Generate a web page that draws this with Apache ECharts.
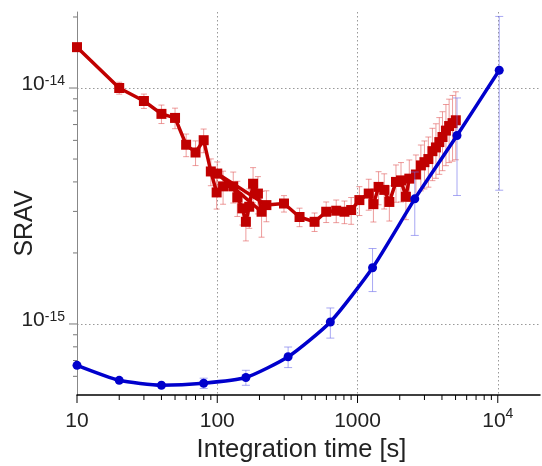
<!DOCTYPE html>
<html><head><meta charset="utf-8">
<script src="https://cdn.jsdelivr.net/npm/echarts@6/dist/echarts.min.js"></script>
<style>html,body{margin:0;padding:0;background:#fff}#c{width:542px;height:466px}</style>
</head><body><div id="c"></div>
<script>
// ---- axis ranges and tick labels ----
const xMin = 10, xMax = 20000;
const yMin = 5e-16, yMax = 2.1e-14;
const xTickValues = [10, 100, 1000, 10000];
const xTickBase = ['10', '100', '1000', '10'];
const xTickExp = ['', '', '', '4'];
const yTickValues = [1e-15, 1e-14];
const yTickBase = ['10', '10'];
const yTickExp = ['-15', '-14'];
const xTitle = 'Integration time [s]';
const yTitle = 'SRAV';

// ---- curve 1/2 (red squares) ----
const redTau = [10,20,30,40,50,60,70,80,90,
  99,110,130,139,151,160,169,180,195,207,
  100,224,
  299,386,494,598,705,807,901,
  1031,1202,1298,1413,1550,1686,1880,2042,2213,2340,
  2608,2830,3000,3200,3420,3623,3830,4036,4270,4500,4760,5020];
const redSrav = [1.49e-14,1.00e-14,8.81e-15,7.77e-15,7.47e-15,5.75e-15,5.33e-15,6.01e-15,4.43e-15,
  3.61e-15,3.83e-15,3.83e-15,3.44e-15,3.09e-15,2.71e-15,3.14e-15,3.93e-15,3.57e-15,2.99e-15,
  4.34e-15,3.19e-15,
  3.24e-15,2.84e-15,2.71e-15,2.99e-15,3.02e-15,2.99e-15,3.04e-15,
  3.35e-15,3.57e-15,3.22e-15,3.81e-15,3.70e-15,3.29e-15,4.00e-15,4.06e-15,3.46e-15,4.13e-15,
  4.30e-15,4.70e-15,4.85e-15,5.00e-15,5.40e-15,5.60e-15,5.90e-15,6.20e-15,6.60e-15,6.90e-15,7.10e-15,7.30e-15];
const redRelErr = [0,0.058,0.07,0.09,0.10,0.11,0.12,0.115,0.13,
  0.15,0.16,0.15,0.17,0.15,0.17,0.19,0.17,0.18,0.22,
  0.12,0.15,
  0.08,0.09,0.09,0.10,0.11,0.11,0.13,
  0.14,0.15,0.16,0.16,0.17,0.17,0.18,0.19,0.20,0.20,
  0.21,0.22,0.23,0.24,0.25,0.26,0.27,0.28,0.29,0.30,0.31,0.32];

// ---- curve 3 (blue circles) ----
const blueTau = [10,20,40,80,160,320,640,1280,2560,5120,10240];
const blueSrav = [6.68e-16,5.77e-16,5.50e-16,5.61e-16,5.93e-16,7.26e-16,1.02e-15,1.73e-15,3.39e-15,6.29e-15,1.19e-14];
const blueRelErr = [0,0,0,0.05,0.073,0.10,0.146,0.207,0.30,0.443,0.69];

// ---- curve annotations ----
const curveLabels = ['1', '2', '3'];
const curveLabelTau = [34.8, 1208, 159.6];
const curveLabelSrav = [1.10e-14, 4.43e-15, 8.0e-16];

const FONT = '"Liberation Sans", Arial, Helvetica, sans-serif';
const TXT = '#222';

function tickIndex(vals, v) {
  for (let i = 0; i < vals.length; i++) {
    if (Math.abs(Math.log10(v) - Math.log10(vals[i])) < 1e-6) return i;
  }
  return -1;
}
function fmt(vals, base, exp, v) {
  const i = tickIndex(vals, v);
  if (i < 0) return '';
  return exp[i] ? '{b|' + base[i] + '}{s|' + exp[i] + '}' : '{b|' + base[i] + '}';
}

// tick marks (minor + major) drawn through the axes' own scales
const tickData = [];
for (let n = 1; n <= 4; n++) {
  for (let k = 2; k <= 9; k++) {
    const v = k * Math.pow(10, n);
    if (v < xMax * 0.999) tickData.push([v, yMin, 0]);
  }
}
xTickValues.forEach(v => tickData.push([v, yMin, 1]));
for (let n = -16; n <= -14; n++) {
  for (let k = 2; k <= 9; k++) {
    const v = k * Math.pow(10, n);
    if (v > yMin * 1.001 && v <= yMax) tickData.push([xMin, v, 2]);
  }
}
yTickValues.forEach(v => tickData.push([xMin, v, 3]));

function renderTick(params, api) {
  const kind = api.value(2);
  const p = api.coord([api.value(0), api.value(1)]);
  let x2 = p[0], y2 = p[1], color;
  if (kind < 2) { y2 = p[1] + (kind === 1 ? 8 : 5); color = '#000'; }
  else { x2 = p[0] - (kind === 3 ? 8 : 4); color = '#777'; }
  return { type: 'line', shape: { x1: p[0], y1: p[1], x2: x2, y2: y2 }, style: { stroke: color, lineWidth: 1 } };
}

function errData(tau, val, rel) {
  const out = [];
  for (let i = 0; i < tau.length; i++) {
    if (rel[i] > 0) out.push([tau[i], val[i] * (1 - rel[i]), val[i] * (1 + rel[i])]);
  }
  return out;
}
function makeErrRender(color, cap) {
  return function (params, api) {
    const x = api.value(0);
    const a = api.coord([x, api.value(2)]);
    const b = api.coord([x, api.value(1)]);
    const st = { stroke: color, lineWidth: 1 };
    return { type: 'group', children: [
      { type: 'line', shape: { x1: a[0], y1: a[1], x2: b[0], y2: b[1] }, style: st },
      { type: 'line', shape: { x1: a[0] - cap, y1: a[1], x2: a[0] + cap, y2: a[1] }, style: st },
      { type: 'line', shape: { x1: b[0] - cap, y1: b[1], x2: b[0] + cap, y2: b[1] }, style: st }
    ] };
  };
}

const chart = echarts.init(document.getElementById('c'), null, { renderer: 'canvas' });
chart.setOption({
  animation: false,
  backgroundColor: '#fff',
  textStyle: { fontFamily: FONT },
  grid: { left: 77, right: 2, top: 12, bottom: 71, containLabel: false, outerBoundsMode: 'none' },
  xAxis: {
    type: 'log', logBase: 10, min: xMin, max: xMax,
    name: xTitle, nameLocation: 'middle', nameGap: 42, nameMoveOverlap: false,
    nameTextStyle: { fontSize: 25.5, color: TXT, fontFamily: FONT, padding: [0, 14, 0, 0] },
    axisLine: { show: true, lineStyle: { color: '#000', width: 1.5 } },
    axisTick: { show: false },
    minorTick: { show: false },
    axisLabel: {
      margin: 12, color: TXT, fontFamily: FONT,
      formatter: v => fmt(xTickValues, xTickBase, xTickExp, v),
      rich: {
        b: { fontSize: 21, lineHeight: 28, color: TXT, fontFamily: FONT },
        s: { fontSize: 14, lineHeight: 14, verticalAlign: 'top', color: TXT, fontFamily: FONT }
      }
    },
    splitLine: { show: true, showMinLine: false, showMaxLine: false, lineStyle: { color: '#999', type: [1.5, 2.5], width: 1 } }
  },
  yAxis: {
    type: 'log', logBase: 10, min: yMin, max: yMax,
    name: yTitle, nameLocation: 'middle', nameGap: 39, nameMoveOverlap: false,
    nameTextStyle: { fontSize: 25, color: TXT, fontFamily: FONT, padding: [0, 40, 0, 0] },
    axisLine: { show: true, lineStyle: { color: '#888', width: 1 } },
    axisTick: { show: false },
    minorTick: { show: false },
    axisLabel: {
      margin: 12, color: TXT, fontFamily: FONT,
      formatter: v => fmt(yTickValues, yTickBase, yTickExp, v),
      rich: {
        b: { fontSize: 21, lineHeight: 28, padding: [0, 0, 7, 0], color: TXT, fontFamily: FONT },
        s: { fontSize: 14, lineHeight: 14, verticalAlign: 'top', color: TXT, fontFamily: FONT }
      }
    },
    splitLine: { show: true, showMinLine: false, showMaxLine: false, lineStyle: { color: '#999', type: [1.5, 2.5], width: 1 } }
  },
  series: [
    { type: 'custom', name: 'ticks', renderItem: renderTick, data: tickData, clip: false, silent: true, z: 1 },
    { type: 'custom', name: 'red error', renderItem: makeErrRender('rgba(225,90,90,0.6)', 3),
      data: errData(redTau, redSrav, redRelErr), clip: true, silent: true, z: 2 },
    { type: 'line', name: 'curve 1-2', data: redTau.map((t, i) => [t, redSrav[i]]),
      symbol: 'rect', symbolSize: 10, showSymbol: true,
      lineStyle: { color: '#c00000', width: 3.5 }, itemStyle: { color: '#c00000' }, z: 3 },
    { type: 'custom', name: 'blue error', renderItem: makeErrRender('rgba(110,110,235,0.6)', 4),
      data: errData(blueTau, blueSrav, blueRelErr), clip: true, silent: true, z: 4 },
    { type: 'line', name: 'curve 3', data: blueTau.map((t, i) => [t, blueSrav[i]]),
      symbol: 'circle', symbolSize: 9, smooth: 0.2,
      lineStyle: { color: '#0000cc', width: 3.5 }, itemStyle: { color: '#0000cc' }, z: 5 },
    { type: 'scatter', name: 'labels', symbolSize: 1, itemStyle: { opacity: 0 }, silent: true, z: 6,
      data: curveLabels.map((t, i) => ({ name: t, value: [curveLabelTau[i], curveLabelSrav[i]] })),
      label: { show: true, position: 'inside', formatter: '{b}', fontSize: 21, color: TXT, fontFamily: FONT } }
  ]
});
</script>
</body></html>
